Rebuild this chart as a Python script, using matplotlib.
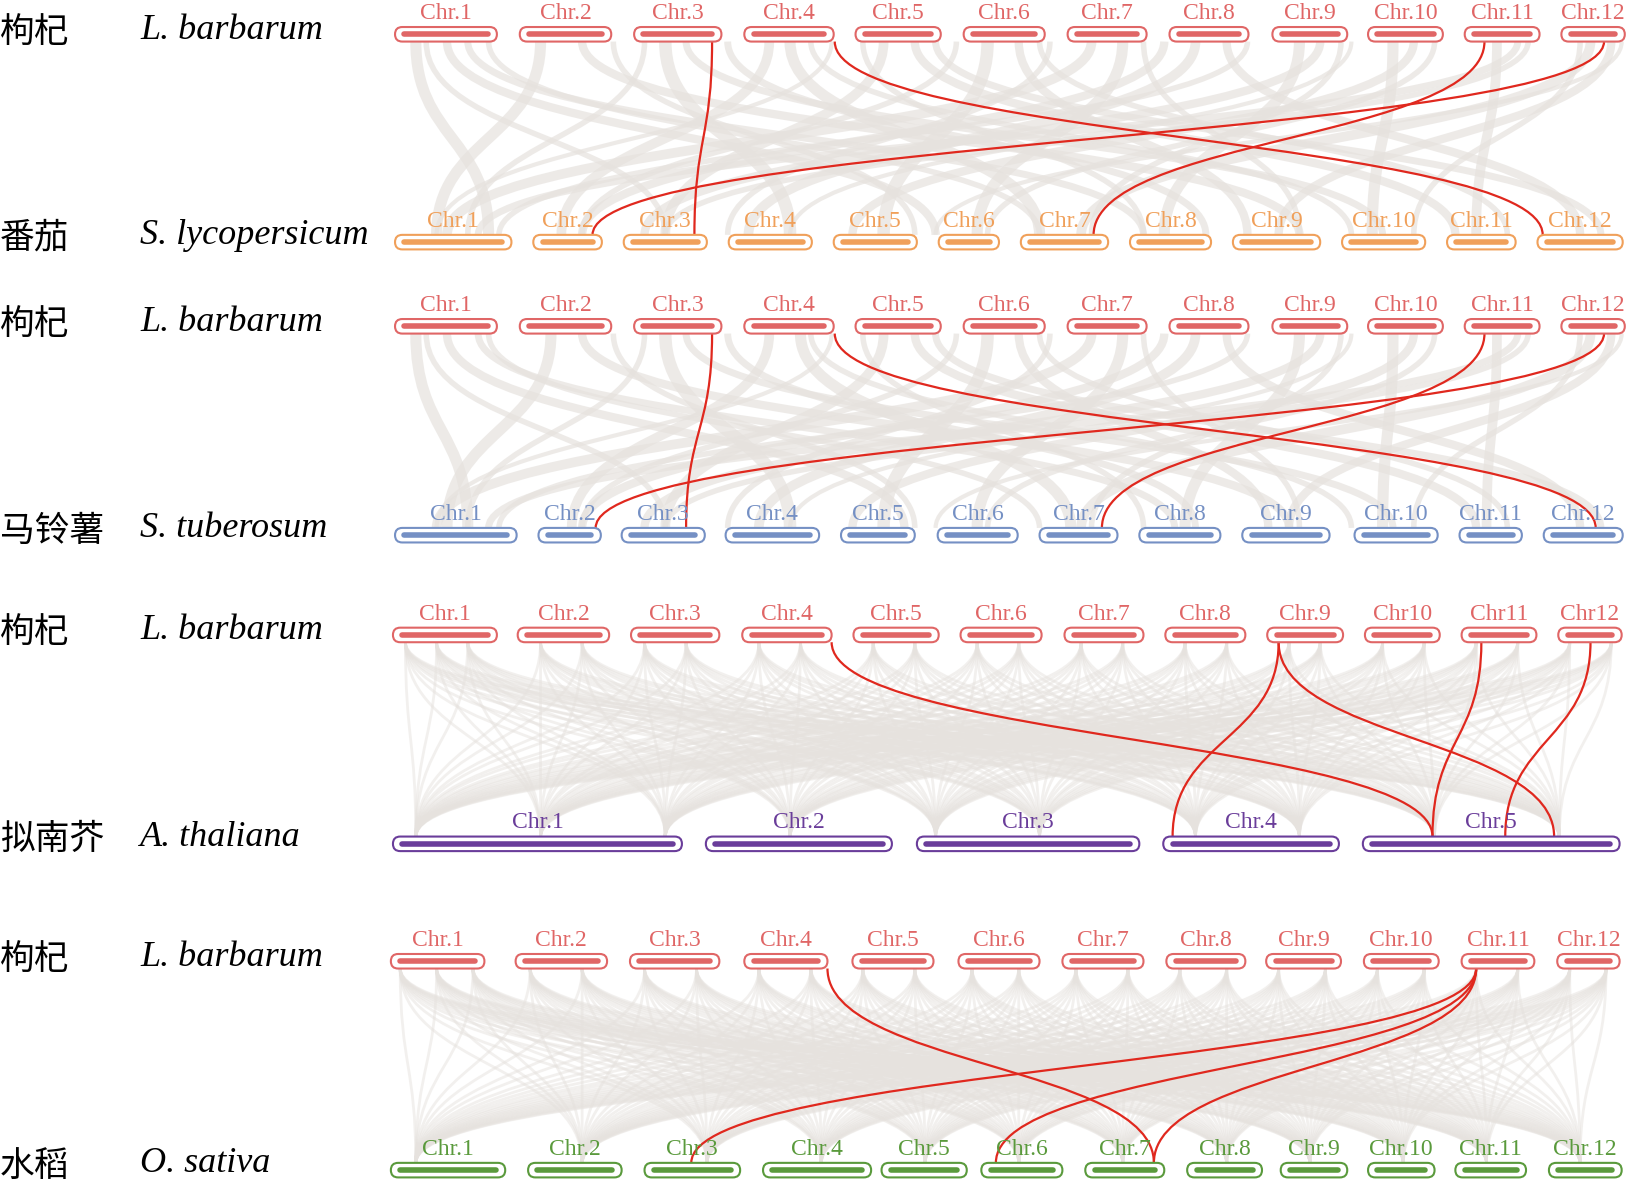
import matplotlib.pyplot as plt
from matplotlib.patches import FancyBboxPatch
from matplotlib.path import Path
from matplotlib.patches import PathPatch

# chromosome extents (picture units) for each row
lb1 = [(380, 478), (500, 588), (610, 694), (716, 802), (823, 905), (927, 1005), (1027, 1103),
       (1125, 1201), (1224, 1296), (1316, 1388), (1409, 1481), (1502, 1563)]
sl = [(380, 492), (513, 579), (600, 680), (701, 781), (802, 882), (903, 961), (982, 1066),
      (1087, 1165), (1186, 1270), (1291, 1371), (1392, 1458), (1479, 1561)]
st = [(380, 497), (518, 578), (598, 678), (698, 788), (809, 880), (902, 979), (1000, 1075),
      (1096, 1174), (1195, 1279), (1303, 1383), (1404, 1464), (1485, 1561)]
lb3 = [(378, 478), (498, 586), (607, 692), (714, 800), (821, 903), (924, 1002), (1024, 1100),
       (1121, 1198), (1219, 1292), (1313, 1385), (1406, 1478), (1499, 1560)]
at = [(378, 656), (679, 858), (882, 1096), (1119, 1288), (1311, 1558)]
lb4 = [(376, 466), (496, 584), (606, 692), (716, 796), (820, 898), (922, 1000), (1022, 1100),
       (1122, 1198), (1218, 1290), (1312, 1384), (1406, 1476), (1498, 1558)]
os_ = [(376, 486), (508, 598), (620, 712), (734, 838), (848, 930), (944, 1022), (1044, 1120),
       (1142, 1214), (1232, 1296), (1316, 1380), (1400, 1468), (1490, 1560)]

lab12 = ['Chr.%d' % i for i in range(1, 13)]
lab12b = ['Chr.%d' % i for i in range(1, 10)] + ['Chr10', 'Chr11', 'Chr12']
lab5 = ['Chr.%d' % i for i in range(1, 6)]

# highlighted links: (top x, bottom x)
red1 = [(685, 668), (803, 1484), (1428, 1052), (1543, 570)]
red2 = [(685, 660), (803, 1535), (1428, 1060), (1543, 573)]
red3 = [(800, 1378), (1230, 1128), (1230, 1495), (1425, 1378), (1530, 1448)]
red4 = [(796, 1110), (1420, 665), (1420, 958), (1420, 1110)]

# background links: (top x, bottom x, width)
gray1 = [(400, 470, 8), (430, 900, 6), (450, 1100, 5), (520, 420, 8), (560, 1250, 6), (640, 760, 9),
         (660, 1330, 5), (740, 540, 7), (760, 1000, 8), (850, 640, 7), (880, 1400, 6), (950, 850, 9),
         (980, 1200, 6), (1050, 430, 7), (1080, 940, 8), (1150, 720, 7), (1180, 1520, 6), (1250, 1120, 8),
         (1270, 620, 6), (1340, 1320, 8), (1360, 820, 6), (1440, 1420, 7), (1460, 460, 5), (1530, 1040, 7),
         (1550, 1230, 6), (700, 1160, 5), (900, 1540, 5), (1120, 560, 6),
         (410, 640, 4), (470, 1000, 4), (590, 880, 4), (620, 450, 4), (780, 1300, 4), (800, 420, 3),
         (830, 1100, 4), (920, 560, 4), (1000, 1450, 4), (1010, 700, 4), (1100, 1250, 4), (1200, 480, 4),
         (1290, 1050, 4), (1300, 760, 3), (1380, 950, 4), (1470, 640, 4), (1520, 1360, 4), (1560, 900, 3)]
gray2 = [(400, 450, 8), (430, 870, 6), (460, 1130, 5), (530, 430, 8), (560, 1240, 6), (640, 760, 9),
         (660, 1340, 5), (740, 550, 7), (770, 1030, 8), (850, 640, 7), (880, 1420, 6), (950, 850, 9),
         (980, 1220, 6), (1050, 420, 7), (1080, 940, 8), (1150, 730, 7), (1180, 1520, 6), (1250, 1140, 8),
         (1270, 620, 6), (1340, 1330, 8), (1360, 820, 6), (1440, 1430, 7), (1460, 470, 5), (1530, 1040, 7),
         (1550, 1240, 6), (700, 1150, 5), (900, 1540, 5), (1120, 560, 6),
         (410, 640, 4), (470, 1000, 4), (590, 880, 4), (620, 450, 4), (780, 1300, 4), (800, 420, 3),
         (830, 1100, 4), (920, 560, 4), (1000, 1450, 4), (1010, 700, 4), (1100, 1250, 4), (1200, 480, 4),
         (1290, 1050, 4), (1300, 760, 3), (1380, 950, 4), (1470, 640, 4), (1520, 1360, 4), (1560, 900, 3)]
gray3 = [(t, b, 2) for t in [390, 420, 450, 520, 560, 620, 660, 730, 770, 840, 880, 940, 980,
                            1040, 1080, 1140, 1180, 1240, 1270, 1330, 1370, 1420, 1460, 1510, 1550]
         for b in [400, 520, 640, 760, 900, 1000, 1150, 1250, 1380, 1500]]
gray4 = [(t, b, 2) for t in [385, 420, 455, 510, 560, 620, 670, 730, 780, 830, 880, 935, 980,
                            1035, 1085, 1135, 1180, 1230, 1275, 1325, 1370, 1420, 1460, 1510, 1545]
         for b in [400, 560, 680, 790, 890, 980, 1080, 1180, 1260, 1350, 1430, 1520]]

panels = [
    (33, 233, lb1, sl, lab12, lab12, '#e06666', '#f0a05a', red1, gray1, '番茄', 'S. lycopersicum'),
    (314, 515, lb1, st, lab12, lab12, '#e06666', '#7590c4', red2, gray2, '马铃薯', 'S. tuberosum'),
    (611, 812, lb3, at, lab12b, lab5, '#e06666', '#6a3d9a', red3, gray3, '拟南芥', 'A. thaliana'),
    (925, 1126, lb4, os_, lab12, lab12, '#e06666', '#5a9a3c', red4, gray4, '水稻', 'O. sativa'),
]

fig = plt.figure(figsize=(16.3, 11.93), dpi=100)
ax = fig.add_axes([0, 0, 1, 1])
ax.set_xlim(0, 1568)
ax.set_ylim(1148, 0)
ax.axis('off')

serif = ['Liberation Serif', 'DejaVu Serif']
cjk = ['Noto Sans CJK SC', 'DejaVu Sans']


def link(x0, y0, x1, y1, color, lw, alpha=1, z=1):
    ym = (y0 + y1) / 2
    p = Path([(x0, y0), (x0, ym), (x1, ym), (x1, y1)],
             [Path.MOVETO, Path.CURVE4, Path.CURVE4, Path.CURVE4])
    ax.add_patch(PathPatch(p, fc='none', ec=color, lw=lw, alpha=alpha, zorder=z))


def chroms(spans, labels, y, color):
    for (a, b), lab in zip(spans, labels):
        ax.add_patch(FancyBboxPatch((a, y - 7), b - a, 14, boxstyle='round,pad=0,rounding_size=7',
                                    fc='white', ec=color, lw=1.5, zorder=3))
        ax.plot([a + 9, b - 9], [y, y], color=color, lw=4, solid_capstyle='round', zorder=4)
        ax.text((a + b) / 2, y - 10, lab, color=color, fontsize=17, family=serif,
                ha='center', va='bottom', zorder=5)


for yt, yb, top, bot, lt, lbl, ct, cb, reds, grays, cn, sp in panels:
    for t, b, w in grays:
        link(t, yt + 7, b, yb - 7, '#e6e2de', w, alpha=0.7 if w > 2 else 0.5, z=1)
    for t, b in reds:
        link(t, yt + 7, b, yb - 7, '#e0281e', 1.6, z=2)
    chroms(top, lt, yt, ct)
    chroms(bot, lbl, yb, cb)
    ax.text(0, yt - 2, '枸杞', fontsize=25, family=cjk, va='center')
    ax.text(135, yt - 4, 'L. barbarum', fontsize=26, family=serif, style='italic', va='center')
    ax.text(0, yb - 4, cn, fontsize=25, family=cjk, va='center')
    ax.text(135, yb - 6, sp, fontsize=26, family=serif, style='italic', va='center')

fig.savefig('out.png', dpi=100)
